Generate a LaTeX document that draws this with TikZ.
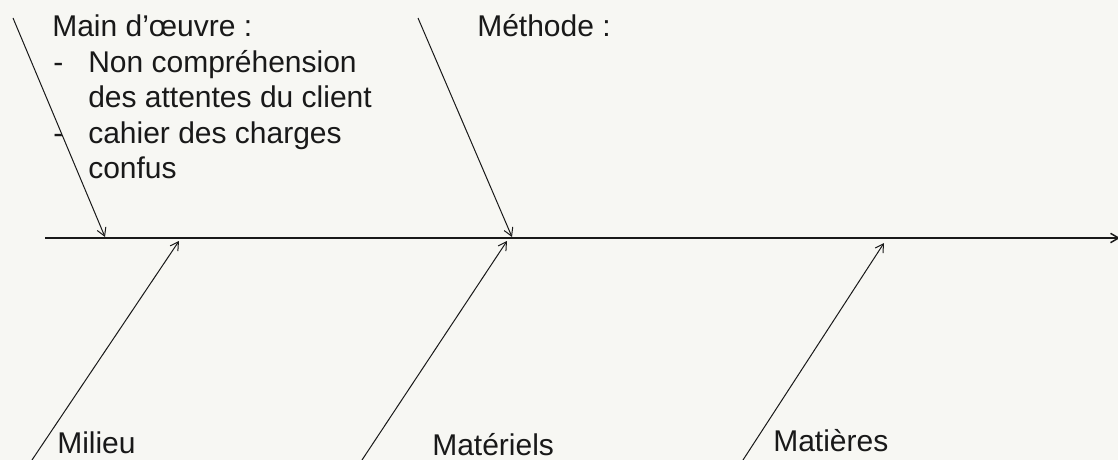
\documentclass[tikz,border=0pt]{standalone}
\usepackage{fontspec}
\setmainfont{Liberation Sans}
\usetikzlibrary{arrows.meta}
\definecolor{bgcol}{RGB}{247,247,243}
\definecolor{inkcol}{RGB}{25,25,25}
\begin{document}
\begin{tikzpicture}[x=0.75pt,y=-0.75pt,
  lbl/.style={anchor=base west,inner sep=0pt,text=inkcol,font=\fontsize{22.5pt}{27pt}\selectfont},
  bone/.style={draw=inkcol,line width=0.75pt,-{Straight Barb[length=6pt,width=7pt]}},
  spine/.style={draw=inkcol,line width=1.1pt,-{Straight Barb[length=6pt,width=7pt]}}]
\fill[bgcol] (0,0) rectangle (1118,460);
\useasboundingbox (0,0) rectangle (1118,460);
% coordinates
\coordinate (sp0) at (45,238);
\coordinate (sp1) at (1120,238);
\coordinate (mo0) at (13,18);
\coordinate (mo1) at (105,237);
\coordinate (me0) at (418,18);
\coordinate (me1) at (512,237);
\coordinate (mi0) at (32,460);
\coordinate (mi1) at (179,241);
\coordinate (ma0) at (362,460);
\coordinate (ma1) at (507,241);
\coordinate (mt0) at (743,460);
\coordinate (mt1) at (884,243);
% connectors
\draw[spine] (sp0) -- (sp1);
\draw[bone] (mo0) -- (mo1);
\draw[bone] (me0) -- (me1);
\draw[bone] (mi0) -- (mi1);
\draw[bone] (ma0) -- (ma1);
\draw[bone] (mt0) -- (mt1);
% texts
\node[lbl] (mot) at (52,37) {Main d’œuvre :};
\node[lbl] (d1) at (53,73) {-};
\node[lbl] (l1a) at (88,73) {Non compréhension};
\node[lbl] (l1b) at (88,108) {des attentes du client};
\node[lbl] (d2) at (53,143) {-};
\node[lbl] (l2a) at (88,143) {cahier des charges};
\node[lbl] (l2b) at (88,178) {confus};
\node[lbl] (met) at (477,37) {Méthode :};
\node[lbl] (mil) at (57,453) {Milieu};
\node[lbl] (mat) at (432,455) {Matériels};
\node[lbl] (mtr) at (773,451) {Matières};
\end{tikzpicture}
\end{document}
